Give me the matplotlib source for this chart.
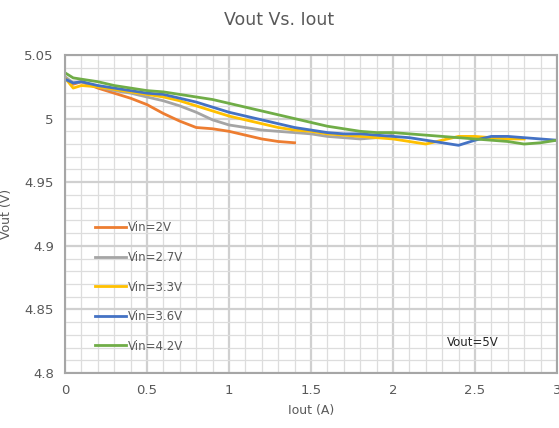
import matplotlib
matplotlib.use("Agg")
import matplotlib.pyplot as plt
from matplotlib.ticker import MultipleLocator, FuncFormatter

# Iout (A) and Vout (V) per input voltage
iout_2v = [0, 0.05, 0.1, 0.2, 0.3, 0.4, 0.5, 0.6, 0.7, 0.8, 0.9, 1.0, 1.1, 1.2, 1.3, 1.4]
vout_2v = [5.032, 5.027, 5.029, 5.024, 5.020, 5.016, 5.011, 5.004, 4.998, 4.993, 4.992,
           4.990, 4.987, 4.984, 4.982, 4.981]

iout_27v = [0, 0.05, 0.1, 0.2, 0.3, 0.4, 0.5, 0.6, 0.7, 0.8, 0.9, 1.0, 1.1, 1.2, 1.3, 1.4,
            1.5, 1.6, 1.7, 1.8, 1.9, 2.0]
vout_27v = [5.033, 5.028, 5.029, 5.025, 5.022, 5.020, 5.017, 5.014, 5.010, 5.005, 4.999,
            4.995, 4.993, 4.991, 4.990, 4.989, 4.988, 4.986, 4.985, 4.984, 4.985, 4.987]

iout_33v = [0, 0.05, 0.1, 0.2, 0.3, 0.4, 0.5, 0.6, 0.7, 0.8, 0.9, 1.0, 1.1, 1.2, 1.3, 1.4,
            1.5, 1.6, 1.7, 1.8, 1.9, 2.0, 2.1, 2.2, 2.3, 2.4, 2.5, 2.6, 2.7, 2.8]
vout_33v = [5.032, 5.024, 5.026, 5.025, 5.023, 5.021, 5.019, 5.017, 5.014, 5.010, 5.006,
            5.002, 4.999, 4.996, 4.993, 4.991, 4.990, 4.988, 4.987, 4.986, 4.985, 4.984,
            4.982, 4.980, 4.983, 4.986, 4.986, 4.985, 4.984, 4.984]

iout_36v = [0, 0.05, 0.1, 0.2, 0.3, 0.4, 0.5, 0.6, 0.7, 0.8, 0.9, 1.0, 1.1, 1.2, 1.3, 1.4,
            1.5, 1.6, 1.7, 1.8, 1.9, 2.0, 2.1, 2.2, 2.3, 2.4, 2.5, 2.6, 2.7, 2.8, 2.9, 3.0]
vout_36v = [5.031, 5.028, 5.029, 5.026, 5.024, 5.022, 5.020, 5.019, 5.016, 5.013, 5.009,
            5.005, 5.002, 4.999, 4.996, 4.993, 4.991, 4.989, 4.988, 4.988, 4.987, 4.986,
            4.985, 4.983, 4.981, 4.979, 4.983, 4.986, 4.986, 4.985, 4.984, 4.983]

iout_42v = [0, 0.05, 0.1, 0.2, 0.3, 0.4, 0.5, 0.6, 0.7, 0.8, 0.9, 1.0, 1.1, 1.2, 1.3, 1.4,
            1.5, 1.6, 1.7, 1.8, 1.9, 2.0, 2.1, 2.2, 2.3, 2.4, 2.5, 2.6, 2.7, 2.8, 2.9, 3.0]
vout_42v = [5.036, 5.032, 5.031, 5.029, 5.026, 5.024, 5.022, 5.021, 5.019, 5.017, 5.015,
            5.012, 5.009, 5.006, 5.003, 5.000, 4.997, 4.994, 4.992, 4.990, 4.989, 4.989,
            4.988, 4.987, 4.986, 4.985, 4.984, 4.983, 4.982, 4.980, 4.981, 4.983]

series = [
    (iout_2v, vout_2v, "Vin=2V", "#ED7D31"),
    (iout_27v, vout_27v, "Vin=2.7V", "#A5A5A5"),
    (iout_33v, vout_33v, "Vin=3.3V", "#FFC000"),
    (iout_36v, vout_36v, "Vin=3.6V", "#4472C4"),
    (iout_42v, vout_42v, "Vin=4.2V", "#70AD47"),
]

text_color = "#595959"

fig = plt.figure(figsize=(5.59, 4.28), dpi=100)
ax = fig.add_axes([0.1163, 0.1285, 0.88, 0.743])

for xs, ys, label, color in series:
    ax.plot(xs, ys, color=color, linewidth=2.0, label=label)

ax.set_xlim(0, 3)
ax.set_ylim(4.8, 5.05)
ax.xaxis.set_major_locator(MultipleLocator(0.5))
ax.xaxis.set_minor_locator(MultipleLocator(0.1))
ax.yaxis.set_major_locator(MultipleLocator(0.05))
ax.yaxis.set_minor_locator(MultipleLocator(0.01))
short = FuncFormatter(lambda v, pos: f"{round(v, 2):g}")
ax.xaxis.set_major_formatter(short)
ax.yaxis.set_major_formatter(short)
ax.grid(True, which="major", color="#D0D0D0", linewidth=1.6)
ax.grid(True, which="minor", color="#DDDDDD", linewidth=0.9)
ax.set_axisbelow(True)
ax.tick_params(which="both", length=0, colors=text_color, labelsize=9.5, pad=8)
for spine in ax.spines.values():
    spine.set_color("#A6A6A6")
    spine.set_linewidth(1.5)

ax.set_xlabel("Iout (A)", color=text_color, fontsize=9, labelpad=5)
ax.set_ylabel("Vout (V)", color=text_color, fontsize=9, labelpad=8)
fig.suptitle("Vout Vs. Iout", color=text_color, fontsize=12.5, y=0.975)

ax.legend(loc="upper left", bbox_to_anchor=(0.04, 0.51), frameon=False, fontsize=8.5,
          labelspacing=1.4, handlelength=2.6, handletextpad=0.15, labelcolor=text_color)
ax.text(2.33, 4.824, "Vout=5V", color="#262626", fontsize=8.5, va="center")

fig.savefig("out.png", dpi=100)
